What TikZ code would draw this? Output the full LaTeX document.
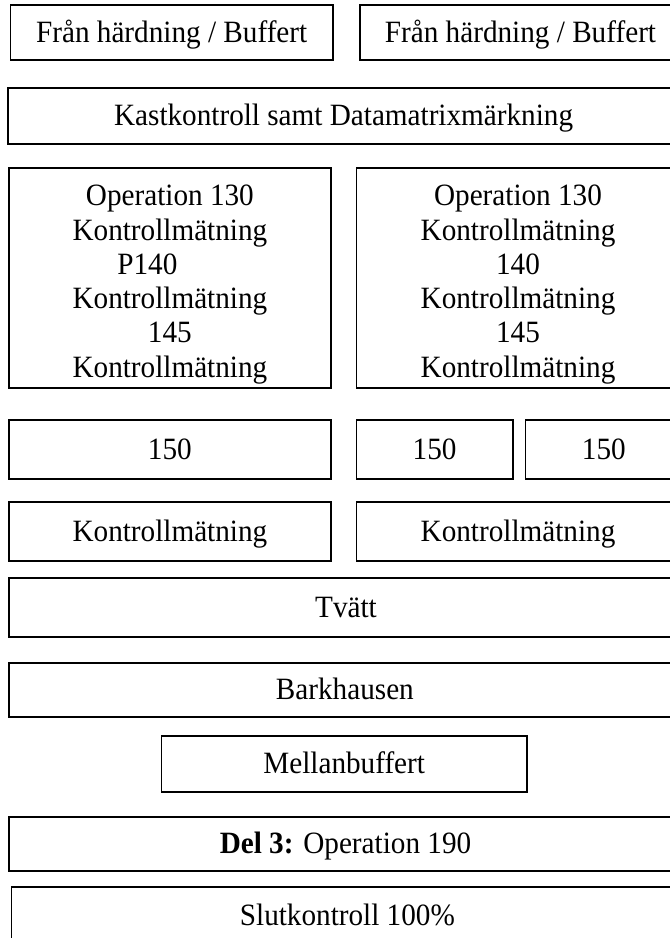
\documentclass[tikz,border=0pt]{standalone}
\usepackage{fontspec}
\setmainfont{Liberation Serif}[FakeStretch=0.942]
\usetikzlibrary{fit}
\begin{document}
\begin{tikzpicture}[x=1pt,y=-1pt,
  box/.style={draw, line width=1.6pt, rectangle, inner sep=0pt},
  lbl/.style={inner sep=0pt, align=center, font=\fontsize{31pt}{34.3pt}\selectfont}]
\useasboundingbox (0,0) rectangle (670,938);
\clip (0,0) rectangle (670,938);

% incoming flows
\node[box, fit={(10.3,5) (333,60)}] (in1) {};
\node[box, fit={(360,5) (690,60)}] (in2) {};
\node[lbl, anchor=base] (in1t) at (171.7,42) {Från härdning / Buffert};
\node[lbl, anchor=base] (in2t) at (520.5,42) {Från härdning / Buffert};

% runout check and marking
\node[box, fit={(7.7,88) (690,144)}] (kast) {};
\node[lbl, anchor=base] (kastt) at (343.6,125.5) {Kastkontroll samt Datamatrixmärkning};

% operation 130 lines
\node[box, fit={(9,168) (330.8,388)}] (opl) {};
\node[box, fit={(356.4,168) (690,388)}] (opr) {};
\node[lbl] (oplt) at (169.9,284.5) {Operation 130\\Kontrollmätning\\P140\rule{45pt}{0pt}\\Kontrollmätning\\145\\Kontrollmätning};
\node[lbl] (oprt) at (518,284.5) {Operation 130\\Kontrollmätning\\140\\Kontrollmätning\\145\\Kontrollmätning};

% operation 150
\node[box, fit={(9,420) (330.8,479)}] (s1) {};
\node[box, fit={(356.4,420) (512.8,479)}] (s2) {};
\node[box, fit={(525.6,420) (690,479)}] (s3) {};
\node[lbl, anchor=base] (s1t) at (169.9,459) {150};
\node[lbl, anchor=base] (s2t) at (434.6,459) {150};
\node[lbl, anchor=base] (s3t) at (603.8,459) {150};

% measuring
\node[box, fit={(9,502) (330.8,561)}] (k1) {};
\node[box, fit={(356.4,502) (690,561)}] (k2) {};
\node[lbl, anchor=base] (k1t) at (169.9,541) {Kontrollmätning};
\node[lbl, anchor=base] (k2t) at (518,541) {Kontrollmätning};

% washing
\node[box, fit={(9,578) (690,637)}] (tv) {};
\node[lbl, anchor=base] (tvt) at (346,617) {Tvätt};

% Barkhausen
\node[box, fit={(9,663) (690,717)}] (bh) {};
\node[lbl, anchor=base] (bht) at (344.9,699.5) {Barkhausen};

% intermediate buffer
\node[box, fit={(161.5,736) (527,792)}] (mb) {};
\node[lbl, anchor=base] (mbt) at (344.2,773.5) {Mellanbuffert};

% part 3
\node[box, fit={(9,817) (690,871)}] (d3) {};
\node[lbl, anchor=base] (d3t) at (345.5,853.5) {\textbf{Del 3:} Operation 190};

% final inspection
\node[box, fit={(11.5,887) (690,960)}] (sk) {};
\node[lbl, anchor=base] (skt) at (347.4,925) {Slutkontroll 100\%};
\end{tikzpicture}
\end{document}
